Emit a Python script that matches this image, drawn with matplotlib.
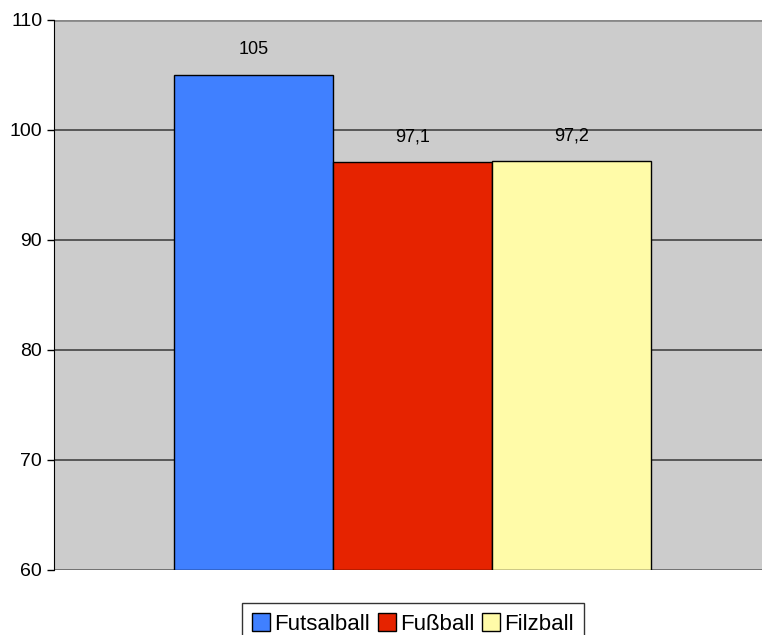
import matplotlib.pyplot as plt
from matplotlib.patches import Patch

# Daten
series = ["Futsalball", "Fußball", "Filzball"]
values = [105, 97.1, 97.2]
value_labels = ["105", "97,1", "97,2"]
colors = ["#4080FF", "#E62300", "#FFFBA8"]
yticks = [60, 70, 80, 90, 100, 110]

plt.rcParams.update({
    "font.family": ["Liberation Sans", "DejaVu Sans"],
    "font.size": 13,
})

fig = plt.figure(figsize=(7.62, 6.35), dpi=100)
ax = fig.add_axes([54 / 762, 65 / 635, 1 - 54 / 762, 550 / 635])
ax.set_facecolor("#CCCCCC")

for i, (v, c) in enumerate(zip(values, colors)):
    ax.bar(i, v - 60, bottom=60, width=1.0, color=c, edgecolor="black", linewidth=1, zorder=3)
    ax.text(i, v + 1.5, value_labels[i], ha="center", va="bottom", fontsize=13, zorder=4)

ax.set_ylim(60, 110)
ax.set_xlim(-1.2547, 3.198)
ax.set_yticks(yticks)
ax.set_xticks([])
ax.yaxis.grid(True, color="#444444", linewidth=1.2, zorder=1)
ax.tick_params(axis="y", length=5, width=1, labelsize=14, color="black")

for s in ["top", "right", "bottom"]:
    ax.spines[s].set_visible(False)
ax.spines["left"].set_color("black")
ax.axhline(110, color="#888888", linewidth=2, zorder=2)
ax.axhline(60, color="#777777", linewidth=2, zorder=2)

handles = [Patch(facecolor=c, edgecolor="black", label=s) for s, c in zip(series, colors)]
fig.legend(handles=handles, loc="lower center", bbox_to_anchor=(413 / 762, -0.015), ncol=3,
           fontsize=16, frameon=True, fancybox=False, edgecolor="black",
           handlelength=0.8, handleheight=0.9, handletextpad=0.2, columnspacing=0.35,
           borderpad=0.45, borderaxespad=0)

fig.savefig("out.png", dpi=100)
